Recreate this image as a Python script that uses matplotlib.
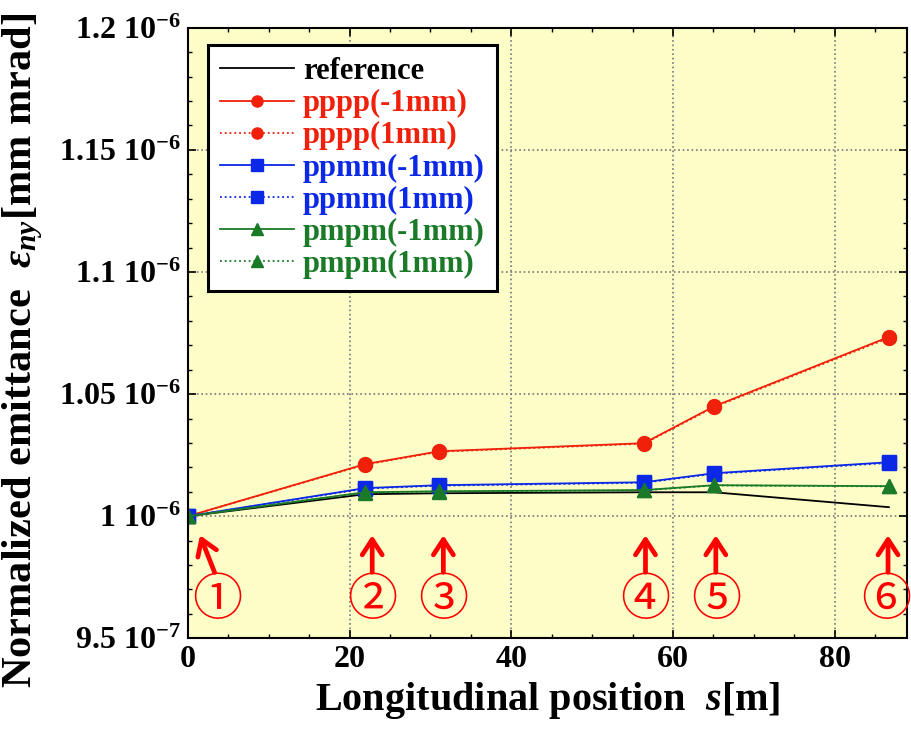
import numpy as np
from matplotlib import pyplot as plt
from matplotlib.ticker import FixedLocator, MultipleLocator

# longitudinal positions of the six screens [m]
s_pos = [0.0, 21.9, 31.1, 56.4, 65.1, 86.7]

# normalized emittance in units of 1e-6
reference = [1.0, 1.0090, 1.0094, 1.0098, 1.0098, 1.0037]
pppp_m1 = [1.0, 1.0213, 1.0266, 1.0299, 1.0450, 1.0734]
pppp_p1 = [1.0, 1.0211, 1.0264, 1.0297, 1.0447, 1.0730]
ppmm_m1 = [1.0, 1.0115, 1.0127, 1.0139, 1.0176, 1.0221]
ppmm_p1 = [1.0, 1.0113, 1.0125, 1.0137, 1.0174, 1.0218]
pmpm_m1 = [1.0, 1.0098, 1.0102, 1.0107, 1.0127, 1.0123]
pmpm_p1 = [1.0, 1.0097, 1.0101, 1.0106, 1.0126, 1.0122]

y_ticks = [0.95, 1.0, 1.05, 1.1, 1.15, 1.2]
y_tick_labels = ["9.5 10$^{-7}$", "1 10$^{-6}$", "1.05 10$^{-6}$",
                 "1.1 10$^{-6}$", "1.15 10$^{-6}$", "1.2 10$^{-6}$"]
x_ticks = [0, 20, 40, 60, 80]

marks = ["\u2460", "\u2461", "\u2462", "\u2463", "\u2464", "\u2465"]
mark_x = [3.6, 22.8, 31.6, 56.6, 65.3, 86.4]
arrow_tip_x = [1.5, 22.8, 31.6, 56.6, 65.3, 86.6]
arrow_tail_x = [3.3, 22.8, 31.6, 56.6, 65.3, 86.6]


def main():
    plt.rcParams['font.family'] = 'Liberation Serif'
    plt.rcParams['font.weight'] = 'bold'
    plt.rcParams['mathtext.fontset'] = 'custom'
    plt.rcParams['mathtext.rm'] = 'Liberation Serif:bold'
    plt.rcParams['mathtext.it'] = 'Liberation Serif:italic:bold'
    plt.rcParams['mathtext.bf'] = 'Liberation Serif:bold'

    fig = plt.figure(figsize=(9.12, 7.32), dpi=100)
    ax = fig.add_axes([0.206, 0.128, 0.789, 0.834])
    ax.set_facecolor('#fdfdc8')

    red = '#f0200a'
    blue = '#0a28e6'
    green = '#1a7a28'

    ax.plot(s_pos, reference, color='black', lw=1.3, label='reference')
    ax.plot(s_pos, pppp_m1, color=red, lw=1.3, marker='o', ms=10, label='pppp(-1mm)')
    ax.plot(s_pos, pppp_p1, color=red, lw=1.3, ls=':', marker='o', ms=10, label='pppp(1mm)')
    ax.plot(s_pos, ppmm_m1, color=blue, lw=1.3, marker='s', ms=10, label='ppmm(-1mm)')
    ax.plot(s_pos, ppmm_p1, color=blue, lw=1.3, ls=':', marker='s', ms=10, label='ppmm(1mm)')
    ax.plot(s_pos, pmpm_m1, color=green, lw=1.3, marker='^', ms=10, label='pmpm(-1mm)')
    ax.plot(s_pos, pmpm_p1, color=green, lw=1.3, ls=':', marker='^', ms=10, label='pmpm(1mm)')

    ax.set_xlim(0, 89)
    ax.set_ylim(0.95, 1.2)
    ax.xaxis.set_major_locator(FixedLocator(x_ticks))
    ax.yaxis.set_major_locator(FixedLocator(y_ticks))
    ax.yaxis.set_minor_locator(MultipleLocator(0.01))
    ax.xaxis.set_minor_locator(MultipleLocator(5))
    ax.set_yticklabels(y_tick_labels, fontsize=23, fontweight='bold')
    ax.set_xticklabels([str(v) for v in x_ticks], fontsize=23, fontweight='bold')
    ax.tick_params(which='both', direction='in', top=True, right=True)
    ax.tick_params(which='major', length=6, width=1.2, pad=5)
    ax.tick_params(which='minor', length=3, width=1.0)
    ax.grid(True, which='major', ls=':', color='#777777', lw=1.2)
    for sp in ax.spines.values():
        sp.set_linewidth(1.5)

    ax.set_xlabel('Longitudinal position  $s$[m]', fontsize=29, fontweight='bold', labelpad=4)
    ax.set_ylabel('Normalized emittance  $\\varepsilon_{ny}$[mm mrad]', fontsize=30.5,
                  fontweight='bold')
    ax.yaxis.set_label_coords(-0.198, 0.472)

    # arrows and circled screen numbers
    for i in range(len(marks)):
        ax.annotate('', xy=(arrow_tip_x[i], 0.9922), xytext=(arrow_tail_x[i], 0.977),
                    arrowprops=dict(arrowstyle='->,head_length=0.55,head_width=0.36',
                                    color='red', lw=3.4, mutation_scale=20,
                                    shrinkA=0, shrinkB=0))
        ax.text(mark_x[i], 0.9652, marks[i], color='red', fontsize=36,
                ha='center', va='center', fontweight='normal',
                family=['Noto Sans CJK JP', 'DejaVu Sans'])

    leg = ax.legend(loc='upper left', bbox_to_anchor=(0.028, 0.972),
                    handlelength=2.4, handletextpad=0.3, labelspacing=0.1,
                    borderpad=0.4, borderaxespad=0.0,
                    frameon=True, fancybox=False, framealpha=1, edgecolor='black',
                    prop={'weight': 'bold', 'size': 22})
    leg.get_frame().set_linewidth(2.2)
    for txt, ln in zip(leg.get_texts(), leg.get_lines()):
        txt.set_color(ln.get_color())
    for ln in leg.get_lines():
        ln.set_markersize(8)

    fig.savefig('out.png', dpi=100)


if '__main__' == __name__:
    main()
